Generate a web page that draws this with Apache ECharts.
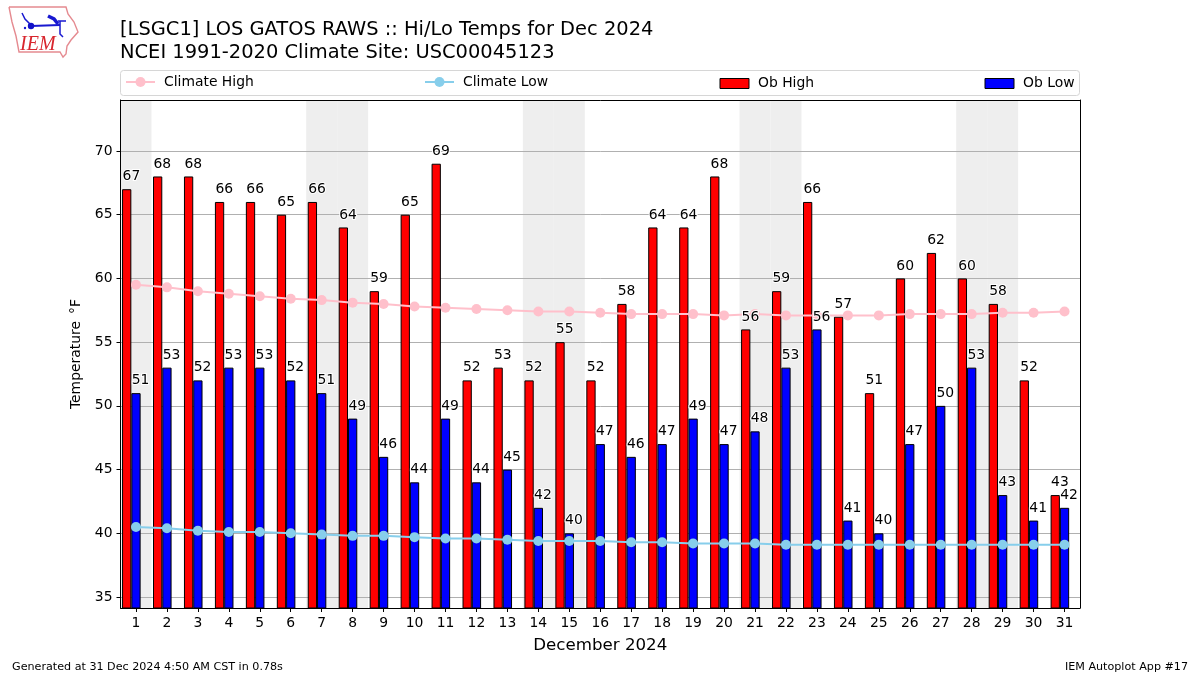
<!DOCTYPE html>
<html>
<head>
<meta charset="utf-8">
<style>html,body{margin:0;padding:0;background:#fff}#c{width:1200px;height:675px}</style>
<script src="https://cdn.jsdelivr.net/npm/echarts@6/dist/echarts.min.js"></script>
</head>
<body>
<div id="c"></div>
<script>
const days = ['1','2','3','4','5','6','7','8','9','10','11','12','13','14','15','16','17','18','19','20','21','22','23','24','25','26','27','28','29','30','31'];
const obHigh = [67,68,68,66,66,65,66,64,59,65,69,52,53,52,55,52,58,64,64,68,56,59,66,57,51,60,62,60,58,52,43];
const obLow = [51,53,52,53,53,52,51,49,46,44,49,44,45,42,40,47,46,47,49,47,48,53,56,41,40,47,50,53,43,41,42];
const climateHigh = [59.5,59.3,59.0,58.8,58.6,58.4,58.3,58.1,58.0,57.8,57.7,57.6,57.5,57.4,57.4,57.3,57.2,57.2,57.2,57.1,57.2,57.1,57.1,57.1,57.1,57.2,57.2,57.2,57.3,57.3,57.4];
const climateLow = [40.5,40.4,40.2,40.1,40.1,40.0,39.9,39.8,39.8,39.7,39.6,39.6,39.5,39.4,39.4,39.4,39.3,39.3,39.2,39.2,39.2,39.1,39.1,39.1,39.1,39.1,39.1,39.1,39.1,39.1,39.1];
const weekendDays = ['1','7','8','14','15','21','22','28','29'];
const yTicks = [35,40,45,50,55,60,65,70];
const yMin = 34.14, yMax = 74;

const FONT = '"DejaVu Sans"';
const barW = 9.28;
const shade = days.map(d => weekendDays.includes(d) ? yMax : null);

function labelSeries(name, data, dx) {
  return {
    name, type: 'line', data, z: 6, silent: true,
    symbol: 'circle', symbolSize: 1, showSymbol: true,
    itemStyle: { color: 'rgba(0,0,0,0)' },
    lineStyle: { opacity: 0, width: 0 },
    label: {
      show: true, position: 'top', distance: 5, offset: [dx, 0],
      color: '#000', fontFamily: FONT, fontSize: 13.9,
      textBorderColor: '#fff', textBorderWidth: 2
    }
  };
}

function legendItem(name, left, itemHeight, icon, top, textPad) {
  const o = {
    show: true, data: [name], left, top, orient: 'horizontal',
    padding: 0, itemWidth: 29, itemHeight, itemGap: 0, selectedMode: false,
    textStyle: { fontFamily: FONT, fontSize: 13.9, color: '#000', padding: textPad }
  };
  if (icon) { o.icon = icon; o.itemStyle = { borderWidth: 1, borderColor: '#000' }; }
  else { o.lineStyle = { width: 2 }; }
  return o;
}

const chart = echarts.init(document.getElementById('c'), null, { renderer: 'canvas' });
chart.setOption({
  animation: false,
  backgroundColor: '#fff',
  title: [
    { text: '[LSGC1] LOS GATOS RAWS :: Hi/Lo Temps for Dec 2024\nNCEI 1991-2020 Climate Site: USC00045123',
      left: 120, top: 19, padding: 0,
      textStyle: { fontFamily: FONT, fontSize: 19.45, fontWeight: 'normal', color: '#000', lineHeight: 22.6 } },
    { text: 'Generated at 31 Dec 2024 4:50 AM CST in 0.78s', left: 12, top: 662, padding: 0,
      textStyle: { fontFamily: FONT, fontSize: 11.15, fontWeight: 'normal', color: '#000' } },
    { text: 'IEM Autoplot App #17', right: 12, top: 662, padding: 0,
      textStyle: { fontFamily: FONT, fontSize: 11.15, fontWeight: 'normal', color: '#000' } }
  ],
  legend: [
    legendItem('Climate High', 125, 12.5, null, 75, [0, 0, 0, 4]),
    legendItem('Climate Low', 424, 12.5, null, 75, [0, 0, 0, 4]),
    legendItem('Ob High', 719.5, 10, 'rect', 76.5, [0, 0, 5, 4]),
    legendItem('Ob Low', 984.5, 10, 'rect', 76.5, [0, 0, 5, 4])
  ],
  grid: { left: 120.5, top: 100, width: 959.5, height: 508, show: false, containLabel: false },
  xAxis: [
    { type: 'category', data: days, boundaryGap: true,
      name: 'December 2024', nameLocation: 'middle', nameGap: 29,
      nameTextStyle: { fontFamily: FONT, fontSize: 16.67, color: '#000' },
      axisLine: { show: true, onZero: false, lineStyle: { color: '#000', width: 1 } },
      axisTick: { show: true, alignWithLabel: true, length: 4, lineStyle: { color: '#000' } },
      axisLabel: { color: '#000', fontFamily: FONT, fontSize: 13.9, margin: 8, interval: 0 },
      splitLine: { show: false } },
    { type: 'category', data: days, position: 'top', boundaryGap: true,
      axisLine: { show: true, onZero: false, lineStyle: { color: '#000', width: 1 } },
      axisTick: { show: false }, axisLabel: { show: false }, splitLine: { show: false } }
  ],
  yAxis: [
    { type: 'value', min: yMin, max: yMax, interval: 5,
      name: 'Temperature \u2009\u00b0F', nameLocation: 'middle', nameGap: 37,
      nameTextStyle: { fontFamily: FONT, fontSize: 13.9, color: '#000' },
      axisLine: { show: true, onZero: false, lineStyle: { color: '#000', width: 1 } },
      axisTick: { show: true, length: 4, lineStyle: { color: '#000' }, customValues: yTicks },
      axisLabel: { color: '#000', fontFamily: FONT, fontSize: 13.9, margin: 8, padding: [3, 0, 0, 0], customValues: yTicks },
      splitLine: { show: true, lineStyle: { color: '#b0b0b0', width: 1 } } },
    { type: 'value', min: yMin, max: yMax, position: 'right',
      axisLine: { show: true, onZero: false, lineStyle: { color: '#000', width: 1 } },
      axisTick: { show: false }, axisLabel: { show: false }, splitLine: { show: false } }
  ],
  series: [
    { name: 'Weekend', type: 'bar', xAxisIndex: 1, data: shade, barWidth: 31, z: -1, silent: true,
      itemStyle: { color: '#eeeeee' } },
    { name: 'Ob High', type: 'bar', data: obHigh, barWidth: barW, barGap: 0, z: 2,
      itemStyle: { color: '#ff0000', borderColor: '#000', borderWidth: 1 } },
    { name: 'Ob Low', type: 'bar', data: obLow, barWidth: barW, barGap: 0, z: 2,
      itemStyle: { color: '#0000ff', borderColor: '#000', borderWidth: 1 } },
    { name: 'Offset', type: 'bar', data: [], barWidth: barW, barGap: 0, z: 2 },
    { name: 'Climate High', type: 'line', data: climateHigh, z: 4, symbol: 'circle', symbolSize: 10,
      itemStyle: { color: '#ffc0cb' }, lineStyle: { color: '#ffc0cb', width: 2 } },
    { name: 'Climate Low', type: 'line', data: climateLow, z: 4, symbol: 'circle', symbolSize: 10,
      itemStyle: { color: '#87ceeb' }, lineStyle: { color: '#87ceeb', width: 2 } },
    labelSeries('Ob High Labels', obHigh, -4.6),
    labelSeries('Ob Low Labels', obLow, 4.6)
  ],
  graphic: [
    { type: 'rect', z: -5, shape: { x: 120.5, y: 70.5, width: 959, height: 25, r: 3 },
      style: { fill: '#fff', stroke: '#d6d6d6', lineWidth: 1 } },
    { type: 'polyline', z: 1, shape: { points: [[9,7],[66,7],[68,14],[74,22],[78,32],[71,40],[67,46],[66,54],[63,57],[60,52],[19,52],[16,36],[12,22],[9,7]] },
      style: { fill: 'none', stroke: '#e58a90', lineWidth: 1.4 } },
    { type: 'polyline', z: 1, shape: { points: [[31,26],[60,25]] }, style: { fill: 'none', stroke: '#1818d0', lineWidth: 2 } },
    { type: 'polyline', z: 1, shape: { points: [[48,16],[54,19],[58,24]] }, style: { fill: 'none', stroke: '#1818d0', lineWidth: 3.5 } },
    { type: 'polyline', z: 1, shape: { points: [[58,21],[66,21]] }, style: { fill: 'none', stroke: '#1818d0', lineWidth: 1.5 } },
    { type: 'polyline', z: 1, shape: { points: [[60,21],[60,34],[63,37]] }, style: { fill: 'none', stroke: '#1818d0', lineWidth: 1.5 } },
    { type: 'polyline', z: 1, shape: { points: [[22,13],[25,19],[30,24]] }, style: { fill: 'none', stroke: '#1818d0', lineWidth: 1.5 } },
    { type: 'circle', z: 1, shape: { cx: 31, cy: 26, r: 3.2 }, style: { fill: '#1010c8' } },
    { type: 'circle', z: 1, shape: { cx: 25, cy: 28, r: 1.2 }, style: { fill: '#1818d0' } },
    { type: 'text', z: 1, style: { x: 20, y: 35, text: 'IEM', fill: '#d8262e',
        font: 'italic 20px "Liberation Serif"' } }
  ]
});
</script>
</body>
</html>
